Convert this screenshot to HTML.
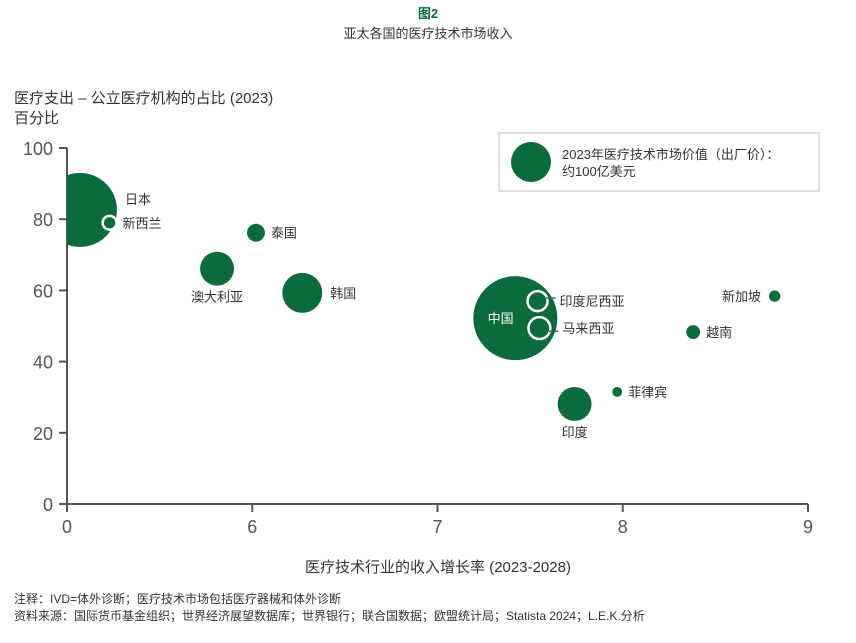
<!DOCTYPE html>
<html><head><meta charset="utf-8"><style>
body{margin:0;background:#fff;font-family:"Liberation Sans","Noto Sans CJK SC",sans-serif;}
svg text{font-family:"Liberation Sans","Noto Sans CJK SC",sans-serif;}
</style></head><body>
<svg width="856" height="638" viewBox="0 0 856 638">
<text x="428" y="18" text-anchor="middle" font-size="13" font-weight="bold" fill="#0b6b3a">图2</text>
<text x="428" y="38" text-anchor="middle" font-size="13" fill="#333">亚太各国的医疗技术市场收入</text>
<text x="14" y="103" font-size="15" fill="#333">医疗支出 – 公立医疗机构的占比 (2023)</text>
<text x="14" y="123" font-size="15" fill="#333">百分比</text>
<g id="axes"></g>
<g id="marks"></g>
<g>
<rect x="499" y="133" width="320" height="58" fill="#fff" stroke="#bbb"/>
<circle cx="531" cy="162" r="20" fill="#0b6b3a"/>
<text x="562" y="159" font-size="13" fill="#333">2023年医疗技术市场价值（出厂价）：</text>
<text x="562" y="176" font-size="13" fill="#333">约100亿美元</text>
</g>
<text x="438" y="572" text-anchor="middle" font-size="15" fill="#333">医疗技术行业的收入增长率 (2023-2028)</text>
<text x="14" y="603" font-size="12" fill="#333">注释：IVD=体外诊断；医疗技术市场包括医疗器械和体外诊断</text>
<text x="14" y="620" font-size="12" fill="#333">资料来源：国际货币基金组织；世界经济展望数据库；世界银行；联合国数据；欧盟统计局；Statista 2024；L.E.K.分析</text>
</svg>
<script>
const countries=["日本","新西兰","泰国","澳大利亚","韩国","中国","印度尼西亚","马来西亚","新加坡","越南","菲律宾","印度"];
const growth=[5.07,5.23,6.02,5.81,6.27,7.42,7.54,7.55,8.82,8.38,7.97,7.74];
const publicShare=[82.6,79.0,76.2,66.1,59.3,52.2,57.0,49.4,58.4,48.3,31.5,28.1];
const marketValue=[342,12,20,72,100,441,25,30,8,12,6,72];
const xTicks=[5,6,7,8,9];
const xTickLabels=["0","6","7","8","9"];
const yTicks=[0,20,40,60,80,100];
const NS="http://www.w3.org/2000/svg";
const X0=67,X1=808,Y0=504,Y1=148;
const xs=v=>X0+(v-5)/4*(X1-X0);
const ys=v=>Y0-v/100*(Y0-Y1);
const rs=v=>20*Math.sqrt(v/100);
function mk(t,a,p){const e=document.createElementNS(NS,t);for(const k in a)e.setAttribute(k,a[k]);p.appendChild(e);return e;}
const ax=document.getElementById('axes');
const yl=mk('line',{x1:X0,y1:Y1,x2:X0,y2:Y0,stroke:'#555','stroke-width':2},ax);

const xl=mk('line',{x1:X0,y1:Y0,x2:X1,y2:Y0,stroke:'#555','stroke-width':2},ax);

yTicks.forEach(v=>{const y=ys(v);
 mk('line',{x1:X0-8,y1:y,x2:X0,y2:y,stroke:'#555','stroke-width':2},ax);
 const t=mk('text',{x:X0-14,y:y+7,'text-anchor':'end','font-size':18,fill:'#555'},ax);t.textContent=v;
 });
xTicks.forEach((v,i)=>{const x=xs(v);
 mk('line',{x1:x,y1:Y0,x2:x,y2:Y0+8,stroke:'#555','stroke-width':2},ax);
 const t=mk('text',{x:x,y:Y0+29,'text-anchor':'middle','font-size':18,fill:'#555'},ax);t.textContent=xTickLabels[i];
 });
const g=document.getElementById('marks');
mk('clipPath',{id:'cp'},g).appendChild(document.createElementNS(NS,'rect'));
const cr=g.querySelector('#cp rect');cr.setAttribute('x',X0);cr.setAttribute('y',0);cr.setAttribute('width',800);cr.setAttribute('height',Y0);
const hollow=["新西兰","印度尼西亚","马来西亚"];
// label placement: [dx,dy,anchor] relative to center, in r units handled below
const lab={"日本":[1,-0.3,'start',8],"新西兰":[1,0.3,'start',6],"泰国":[1,0.3,'start',6],"澳大利亚":[0,1,'middle',16],"韩国":[1,0.3,'start',8],"中国":[-0.35,0.1,'middle',0],"印度尼西亚":[1,0.2,'start',12],"马来西亚":[1,0.4,'start',12],"新加坡":[-1,0.3,'end',8],"越南":[1,0.3,'start',6],"菲律宾":[1,0.3,'start',6],"印度":[0,1,'middle',16]};
countries.forEach((c,i)=>{
 const cx=xs(growth[i]),cy=ys(publicShare[i]),r=rs(marketValue[i]);
 const h=hollow.includes(c);
 const circ=mk('circle',{cx:cx,cy:cy,r:r,fill:'#0b6b3a',stroke:h?'#fff':'none','stroke-width':h?2.5:0,'clip-path':'url(#cp)'},g);
 
 const L=lab[c];let tx,ty;
 if(L[2]==='middle'&&L[3]===0){tx=cx+L[0]*r;ty=cy+5;}
 else if(L[2]==='middle'){tx=cx;ty=cy+r+L[3];}
 else{tx=cx+L[0]*(r+L[3]);ty=cy+5+(c==="日本"?-11:0);}
 if(c==="印度尼西亚"||c==="马来西亚"){
  const sy=c==="印度尼西亚"?-1:1;
  mk('line',{x1:cx+r*0.85,y1:cy+sy*r*0.3,x2:cx+r+8,y2:cy+sy*3,stroke:'#555','stroke-width':1.5},g);
 }
 const t=mk('text',{x:tx,y:ty,'text-anchor':L[2],'font-size':13,fill:c==="中国"?'#fff':'#333'},g);
 t.textContent=c;
 
});
</script>
</body></html>
